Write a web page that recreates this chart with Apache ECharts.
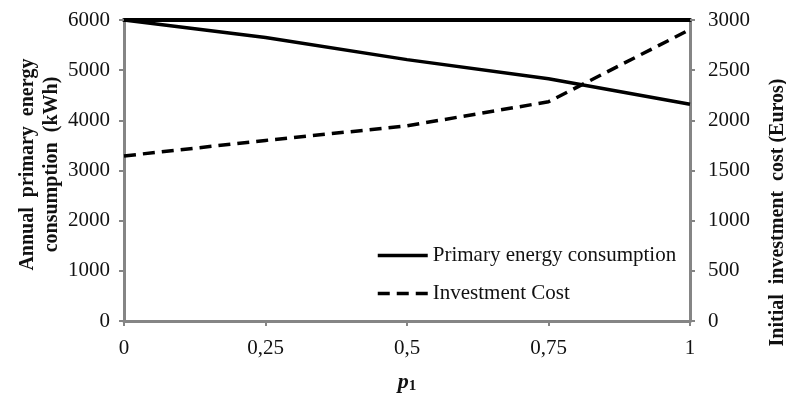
<!DOCTYPE html>
<html>
<head>
<meta charset="utf-8">
<script src="https://cdn.jsdelivr.net/npm/echarts@6/dist/echarts.min.js"></script>
<style>
html,body{margin:0;padding:0;background:#fff;}
#chart{width:786px;height:394px;}
</style>
</head>
<body>
<div id="chart"></div>
<script>
const xValues = [0, 0.25, 0.5, 0.75, 1];
const xTickLabels = ['0', '0,25', '0,5', '0,75', '1'];
const energyValues = [6000, 5650, 5210, 4830, 4320];
const costValues = [1645, 1800, 1945, 2185, 2905];
const energyName = 'Primary energy consumption';
const costName = 'Investment Cost';
const leftTitle = 'Annual  primary  energy\nconsumption  (kWh)';
const rightTitle = 'Initial  investment  cost (Euros)';

const FONT = "'Liberation Serif', 'Times New Roman', serif";
const AXIS_GRAY = '#858585';

const chart = echarts.init(document.getElementById('chart'), null, {renderer: 'canvas'});

const option = {
  backgroundColor: '#fff',
  animation: false,
  grid: {left: 124, right: 96, top: 20, bottom: 73, containLabel: false, outerBoundsMode: 'none'},
  legend: {
    orient: 'vertical',
    left: 371,
    top: 240,
    itemWidth: 50,
    itemHeight: 14,
    itemGap: 17,
    itemStyle: {opacity: 0},
    lineStyle: {width: 3.5},
    textStyle: {fontFamily: FONT, fontSize: 21, color: '#111'},
    data: [energyName, costName]
  },
  xAxis: [
    {
      type: 'value',
      min: 0, max: 1, interval: 0.25,
      position: 'bottom',
      name: '{p|p}{s|1}',
      nameLocation: 'middle',
      nameGap: 50,
      nameMoveOverlap: false,
      nameTextStyle: {
        rich: {
          p: {fontFamily: FONT, fontSize: 22, fontWeight: 'bold', fontStyle: 'italic', color: '#111'},
          s: {fontFamily: FONT, fontSize: 15, fontWeight: 'bold', color: '#111', verticalAlign: 'bottom', padding: [8, 0, 0, 0]}
        }
      },
      axisLine: {show: true, onZero: false, lineStyle: {color: AXIS_GRAY, width: 3}},
      axisTick: {show: true, inside: false, length: 5, lineStyle: {color: AXIS_GRAY, width: 2}},
      axisLabel: {
        margin: 17,
        fontFamily: FONT, fontSize: 21, color: '#111',
        formatter: function (v) {
          const i = xValues.indexOf(v);
          return i >= 0 ? xTickLabels[i] : '';
        }
      },
      splitLine: {show: false}
    },
    {
      type: 'value',
      min: 0, max: 1,
      position: 'top',
      axisLine: {show: true, onZero: false, lineStyle: {color: '#000', width: 4}},
      axisTick: {show: false},
      axisLabel: {show: false},
      splitLine: {show: false}
    }
  ],
  yAxis: [
    {
      type: 'value',
      min: 0, max: 6000, interval: 1000,
      position: 'left',
      name: leftTitle,
      nameLocation: 'middle',
      nameRotate: 90,
      nameGap: 60,
      nameMoveOverlap: false,
      nameTextStyle: {fontFamily: FONT, fontSize: 20, fontWeight: 'bold', color: '#111', lineHeight: 24, align: 'center', padding: [0, 0, 0, 12]},
      axisLine: {show: true, onZero: false, lineStyle: {color: AXIS_GRAY, width: 3}},
      axisTick: {show: true, inside: false, length: 5, lineStyle: {color: AXIS_GRAY, width: 2}},
      axisLabel: {margin: 14, fontFamily: FONT, fontSize: 21, color: '#111', formatter: function (v) { return String(v); }},
      splitLine: {show: false}
    },
    {
      type: 'value',
      min: 0, max: 3000, interval: 500,
      position: 'right',
      name: rightTitle,
      nameLocation: 'middle',
      nameRotate: 90,
      nameGap: 78,
      nameMoveOverlap: false,
      nameTextStyle: {fontFamily: FONT, fontSize: 20, fontWeight: 'bold', color: '#111', padding: [0, 84, 0, 0]},
      axisLine: {show: true, onZero: false, lineStyle: {color: AXIS_GRAY, width: 3}},
      axisTick: {show: true, inside: false, length: 5, lineStyle: {color: AXIS_GRAY, width: 2}},
      axisLabel: {margin: 18, fontFamily: FONT, fontSize: 21, color: '#111', formatter: function (v) { return String(v); }},
      splitLine: {show: false}
    }
  ],
  series: [
    {
      name: energyName,
      type: 'line',
      xAxisIndex: 0,
      yAxisIndex: 0,
      symbol: 'none',
      lineStyle: {color: '#000', width: 3.5, type: 'solid'},
      itemStyle: {color: '#000'},
      data: xValues.map((x, i) => [x, energyValues[i]]),
      z: 3
    },
    {
      name: costName,
      type: 'line',
      xAxisIndex: 0,
      yAxisIndex: 1,
      symbol: 'none',
      lineStyle: {color: '#000', width: 3.5, type: [12, 7]},
      itemStyle: {color: '#000'},
      data: xValues.map((x, i) => [x, costValues[i]]),
      z: 3
    }
  ]
};
chart.setOption(option);
</script>
</body>
</html>
